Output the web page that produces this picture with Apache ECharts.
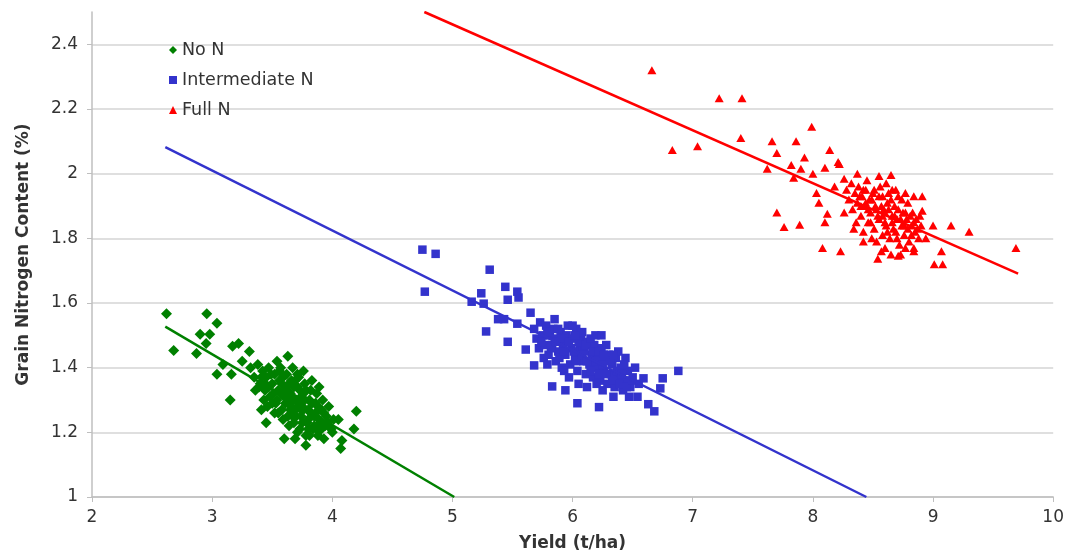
<!DOCTYPE html>
<html>
<head>
<meta charset="utf-8">
<script src="https://cdn.jsdelivr.net/npm/echarts@6/dist/echarts.min.js"></script>
<style>html,body{margin:0;padding:0;background:#fff}#c{width:1067px;height:559px}</style>
</head>
<body>
<div id="c"></div>
<script>
const seriesNames = ['No N', 'Intermediate N', 'Full N'];
const xAxisTitle = 'Yield (t/ha)';
const yAxisTitle = 'Grain Nitrogen Content (%)';

const noN = [
  [2.62,1.567],[2.955,1.567],[3.04,1.537],[2.90,1.503],[2.98,1.503],[2.68,1.453],[2.87,1.444],[2.95,1.475],
  [3.17,1.466],[3.22,1.475],[3.31,1.45],[3.25,1.42],[3.04,1.38],[3.16,1.38],[3.09,1.41],[3.15,1.30],
  [3.63,1.435],[3.71,1.38],[4.20,1.265],[4.18,1.21],[3.60,1.18],[3.69,1.18],[4.08,1.175],[4.07,1.15],
  [3.45,1.23],[3.41,1.27],
  [3.32,1.40],[3.35,1.37],[3.38,1.41],[3.40,1.35],[3.42,1.39],[3.44,1.33],[3.45,1.37],[3.47,1.40],
  [3.48,1.31],[3.50,1.35],[3.52,1.38],[3.53,1.29],[3.55,1.33],[3.56,1.36],[3.57,1.40],[3.58,1.27],
  [3.60,1.31],[3.61,1.34],[3.62,1.38],[3.63,1.25],[3.64,1.29],[3.65,1.32],[3.66,1.36],[3.68,1.23],
  [3.69,1.27],[3.70,1.30],[3.71,1.34],[3.72,1.37],[3.73,1.21],[3.74,1.25],[3.75,1.28],[3.76,1.32],
  [3.77,1.35],[3.78,1.19],[3.79,1.23],[3.80,1.27],[3.81,1.30],[3.82,1.33],[3.84,1.21],[3.85,1.25],
  [3.86,1.29],[3.87,1.32],[3.88,1.19],[3.90,1.23],[3.91,1.27],[3.92,1.30],[3.94,1.22],[3.95,1.25],
  [3.97,1.28],[3.99,1.21],[4.01,1.24],[3.36,1.33],[3.46,1.28],[3.54,1.42],[3.59,1.24],[3.67,1.40],
  [3.76,1.39],[3.83,1.36],[3.89,1.34],[3.93,1.18],[3.78,1.16],[3.71,1.20],[3.64,1.22],[3.52,1.26],
  [3.43,1.30],[3.39,1.34],[3.58,1.35],[3.66,1.28],[3.74,1.31],[3.80,1.24],[4.00,1.20],[4.05,1.24],
  [3.47,1.34],[3.49,1.38],[3.51,1.32],[3.54,1.30],[3.57,1.32],[3.59,1.37],[3.61,1.29],[3.62,1.33],
  [3.64,1.35],[3.65,1.27],[3.67,1.31],[3.68,1.34],[3.70,1.25],[3.72,1.29],[3.73,1.33],[3.75,1.23],
  [3.76,1.27],[3.77,1.30],[3.78,1.33],[3.80,1.21],[3.82,1.26],[3.83,1.29],[3.85,1.22],[3.86,1.26],
  [3.88,1.28],[3.89,1.24],[3.91,1.21],[3.93,1.26],[3.96,1.23],[3.56,1.39],[3.63,1.31],[3.69,1.36],
  [3.74,1.27],[3.81,1.19],[3.87,1.21],[3.50,1.29],[3.55,1.26],[3.41,1.37],[3.44,1.35],[3.67,1.25]
];

const intermediateN = [
  [4.75,1.765],[4.86,1.752],[4.77,1.635],[5.31,1.703],[5.44,1.65],[5.54,1.635],[5.55,1.617],[5.46,1.61],
  [5.24,1.63],[5.16,1.604],[5.26,1.598],[5.38,1.55],[5.43,1.55],[5.54,1.536],[5.28,1.512],[5.46,1.48],
  [5.65,1.57],[5.61,1.456],[5.68,1.407],[5.83,1.342],[5.94,1.33],[6.04,1.29],[6.22,1.278],[6.88,1.39],
  [6.75,1.367],[6.73,1.336],[6.63,1.287],[6.68,1.265],[6.54,1.31],[6.59,1.367],[6.44,1.43],
  [5.68,1.52],[5.70,1.49],[5.72,1.46],[5.73,1.54],[5.75,1.50],[5.77,1.47],[5.78,1.53],[5.80,1.44],
  [5.81,1.50],[5.83,1.47],[5.84,1.52],[5.86,1.42],[5.87,1.49],[5.88,1.45],[5.90,1.51],[5.91,1.40],
  [5.92,1.47],[5.94,1.44],[5.95,1.50],[5.96,1.53],[5.98,1.41],[5.99,1.46],[6.00,1.49],[6.02,1.43],
  [6.03,1.52],[6.04,1.39],[6.06,1.46],[6.07,1.49],[6.09,1.42],[6.10,1.45],[6.11,1.38],[6.13,1.48],
  [6.14,1.41],[6.16,1.44],[6.17,1.37],[6.18,1.47],[6.20,1.40],[6.21,1.43],[6.23,1.36],[6.24,1.46],
  [6.26,1.39],[6.27,1.42],[6.29,1.35],[6.30,1.44],[6.32,1.38],[6.33,1.41],[6.35,1.34],[6.36,1.43],
  [6.38,1.37],[6.40,1.40],[6.42,1.33],[6.44,1.36],[6.46,1.39],[6.48,1.34],[6.50,1.37],[6.52,1.40],
  [6.55,1.35],[5.76,1.43],[5.85,1.55],[5.97,1.37],[6.08,1.51],[6.19,1.50],[6.28,1.47],[6.12,1.34],
  [6.25,1.33],[5.93,1.39],[6.34,1.31],[6.05,1.35],[6.47,1.31],[5.79,1.41],[6.38,1.45],[6.00,1.53],
  [6.24,1.50],
  [5.74,1.48],[5.79,1.51],[5.82,1.46],[5.86,1.48],[5.89,1.43],[5.91,1.49],[5.93,1.45],[5.97,1.48],
  [6.01,1.45],[6.03,1.42],[6.05,1.48],[6.08,1.44],[6.11,1.47],[6.12,1.42],[6.15,1.39],[6.17,1.45],
  [6.19,1.42],[6.22,1.38],[6.22,1.45],[6.25,1.41],[6.28,1.38],[6.31,1.42],[6.33,1.36],[6.37,1.39],
  [6.39,1.35],[6.41,1.38],[6.43,1.41],[6.45,1.34],[6.49,1.36],[6.15,1.49],[6.26,1.44],[5.88,1.52],
  [6.02,1.50],[6.34,1.44],[6.20,1.35]
];

const fullN = [
  [6.66,2.32],[7.22,2.233],[7.41,2.233],[6.83,2.073],[7.04,2.085],[7.40,2.11],[7.99,2.145],[7.66,2.10],
  [7.86,2.10],[7.70,2.064],[8.14,2.073],[7.93,2.05],[7.82,2.027],[7.90,2.015],[7.62,2.015],[8.21,2.036],
  [8.10,2.018],[8.00,2.00],[7.84,1.987],[8.26,1.984],[7.70,1.88],[7.76,1.835],[7.89,1.842],[8.03,1.94],
  [8.05,1.91],[8.12,1.876],[8.10,1.85],[8.08,1.77],[8.18,1.96],[8.22,2.03],[8.37,2.00],[8.55,1.993],
  [8.65,1.996],[8.84,1.93],[8.91,1.93],[8.91,1.885],[9.00,1.84],[9.15,1.84],[9.30,1.82],[9.07,1.76],
  [9.01,1.72],[9.08,1.72],[8.94,1.80],[8.54,1.737],[8.60,1.77],[8.23,1.76],[8.71,1.746],[8.77,1.77],
  [8.84,1.76],[8.42,1.79],[9.69,1.77],
  [8.28,1.95],[8.30,1.92],[8.32,1.97],[8.33,1.89],[8.35,1.94],[8.37,1.91],[8.38,1.96],[8.40,1.87],
  [8.41,1.93],[8.43,1.90],[8.44,1.95],[8.46,1.85],[8.47,1.92],[8.48,1.88],[8.50,1.94],[8.51,1.83],
  [8.52,1.90],[8.54,1.87],[8.55,1.93],[8.56,1.96],[8.58,1.81],[8.59,1.89],[8.60,1.85],[8.62,1.91],
  [8.63,1.94],[8.64,1.80],[8.66,1.87],[8.67,1.83],[8.68,1.90],[8.70,1.86],[8.71,1.93],[8.72,1.78],
  [8.74,1.84],[8.75,1.88],[8.76,1.81],[8.78,1.86],[8.79,1.91],[8.80,1.79],[8.82,1.84],[8.83,1.88],
  [8.85,1.82],[8.86,1.86],[8.88,1.80],[8.90,1.84],[8.36,1.85],[8.45,1.98],[8.53,1.79],[8.61,1.97],
  [8.69,1.95],[8.77,1.94],[8.84,1.77],[8.57,1.76],[8.65,1.75],[8.73,1.75],[8.42,1.82],[8.49,1.80],
  [8.26,1.88],[8.34,1.83],
  [8.39,1.93],[8.42,1.95],[8.44,1.91],[8.46,1.89],[8.49,1.92],[8.51,1.95],[8.53,1.89],[8.55,1.86],
  [8.57,1.90],[8.58,1.93],[8.60,1.88],[8.61,1.84],[8.63,1.89],[8.65,1.92],[8.66,1.85],[8.68,1.87],
  [8.69,1.82],[8.71,1.89],[8.73,1.86],[8.74,1.92],[8.76,1.84],[8.77,1.88],[8.79,1.83],[8.81,1.87],
  [8.82,1.81],[8.84,1.85],[8.87,1.83],[8.89,1.87],[8.62,1.82],[8.70,1.80],[8.48,1.85],[8.40,1.90],
  [8.58,1.87],[8.66,1.95]
];

const trendNoN = [[2.61,1.527],[5.015,1.0]];
const trendIntermediateN = [[2.61,2.082],[8.445,1.0]];
const trendFullN = [[4.766,2.5],[9.708,1.691]];

const colors = ['#008000', '#3333CC', '#FF0000'];

const chart = echarts.init(document.getElementById('c'), null, {renderer: 'canvas'});
const font = 'DejaVu Sans';
chart.setOption({
  animation: false,
  backgroundColor: '#ffffff',
  grid: {left: 92, right: 12, top: 12, bottom: 62, containLabel: false},
  legend: {
    data: seriesNames,
    orient: 'vertical',
    left: 169, top: 41, padding: 0,
    itemWidth: 8, itemHeight: 8, itemGap: 12,
    textStyle: {fontFamily: font, fontSize: 17.5, color: '#333', lineHeight: 17}
  },
  xAxis: {
    type: 'value', min: 2, max: 10, interval: 1,
    name: xAxisTitle, nameLocation: 'middle', nameGap: 38,
    nameTextStyle: {fontFamily: font, fontSize: 17, fontWeight: 'bold', color: '#333'},
    axisLine: {show: true, lineStyle: {color: '#bfbfbf', width: 1.5}},
    axisTick: {show: true, length: 5, lineStyle: {color: '#bfbfbf'}},
    axisLabel: {fontFamily: font, fontSize: 17, color: '#333', margin: 12},
    splitLine: {show: false}
  },
  yAxis: {
    type: 'value', min: 1, max: 2.5, interval: 0.2,
    name: yAxisTitle, nameLocation: 'middle', nameGap: 60, nameRotate: 90,
    nameTextStyle: {fontFamily: font, fontSize: 17, fontWeight: 'bold', color: '#333'},
    axisLine: {show: true, lineStyle: {color: '#bfbfbf', width: 1.5}},
    axisTick: {show: true, length: 5, lineStyle: {color: '#bfbfbf'}},
    axisLabel: {fontFamily: font, fontSize: 17, color: '#333', margin: 14, showMaxLabel: false},
    splitLine: {show: true, showMaxLine: false, lineStyle: {color: '#d4d4d4', width: 1.5}}
  },
  series: [
    {name: seriesNames[0], type: 'scatter', data: noN, symbol: 'diamond', symbolSize: 11,
     itemStyle: {color: colors[0], opacity: 1}},
    {name: seriesNames[1], type: 'scatter', data: intermediateN, symbol: 'rect', symbolSize: 8.5,
     itemStyle: {color: colors[1], opacity: 1}},
    {name: seriesNames[2], type: 'scatter', data: fullN, symbol: 'triangle', symbolSize: [9, 8],
     itemStyle: {color: colors[2], opacity: 1}},
    {name: 'trend0', type: 'line', data: trendNoN, symbol: 'none', silent: true,
     lineStyle: {color: colors[0], width: 2.5}},
    {name: 'trend1', type: 'line', data: trendIntermediateN, symbol: 'none', silent: true,
     lineStyle: {color: colors[1], width: 2.5}},
    {name: 'trend2', type: 'line', data: trendFullN, symbol: 'none', silent: true,
     lineStyle: {color: colors[2], width: 2.5}}
  ]
});
</script>
</body>
</html>
